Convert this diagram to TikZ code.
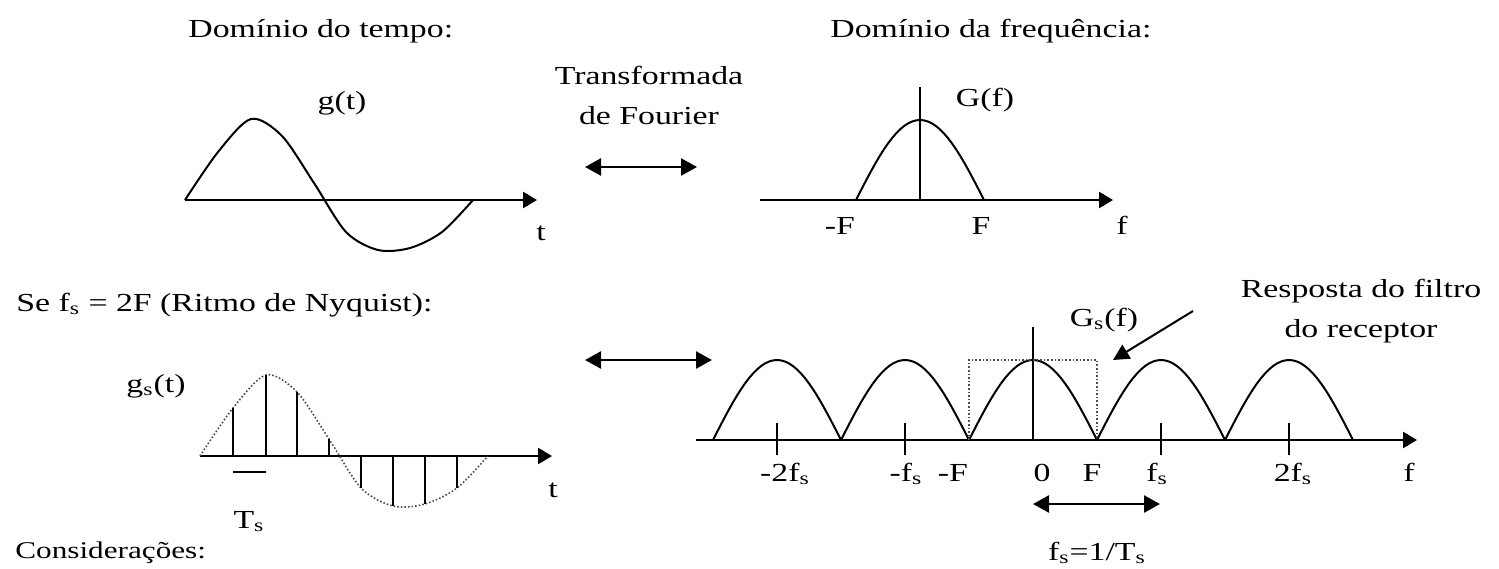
\documentclass[tikz,border=0pt]{standalone}
\usepackage{fontspec}
\setmainfont[FakeStretch=1.3]{Liberation Serif}
\usetikzlibrary{arrows.meta}

\begin{document}
\begin{tikzpicture}[x=0.5pt, y=-0.5pt,
  axis/.style={draw=black, line width=1.3pt, -{Triangle[length=7pt,width=8pt]}},
  curve/.style={draw=black, line width=1pt},
  guide/.style={draw=black!70, line width=0.8pt, densely dotted},
  tickmark/.style={draw=black, line width=1pt},
  twoway/.style={draw=black, line width=1.3pt, {Triangle[length=8pt,width=8.5pt]}-{Triangle[length=8pt,width=8.5pt]}},
  pointer/.style={draw=black, line width=1pt, -{Triangle[length=8pt,width=8pt]}},
  lbl/.style={font=\fontsize{13}{20}\selectfont, inner sep=0pt, anchor=base},
  small/.style={font=\fontsize{12}{14}\selectfont, inner sep=0pt, anchor=base west},
  wave/.pic={\draw plot[smooth] coordinates {(0,0) (33,-48) (66,-81) (97,-64) (129,-17) (161,32) (193,50) (225,48) (257,32) (288,0)};},
]
  \useasboundingbox (0,0) rectangle (1499,568);

  % titles
  \node[lbl, anchor=base west] (ttime) at (188,37) {Domínio do tempo:};
  \node[lbl, anchor=base west] (tfreq) at (830,37) {Domínio da frequência:};
  \node[lbl] (fourier) at (649,84) {Transformada};
  \node[lbl] (fourier2) at (649,124) {de Fourier};

  % g(t) and G(f)
  \draw[axis] (185,200) -- (537,200);
  \pic[curve] at (185,200) {wave};
  \node[lbl] (gt) at (342,109) {g(t)};
  \node[lbl] (t1) at (541,240) {t};

  \draw[axis] (760,200) -- (1113,200);
  \draw[curve] (920,87) -- (920,200);
  \draw[curve, shift={(856,200)}] plot[domain=0:128, samples=33] (\x,{-80*sin(\x/128*180)});
  \node[lbl] (Gf) at (985,106) {G(f)};
  \node[lbl] (mF1) at (840,234) {-F};
  \node[lbl] (F1) at (981,234) {F};
  \node[lbl] (f1) at (1122,234) {f};

  \coordinate (a1) at (585,167);
  \coordinate (b1) at (697,167);
  \draw[twoway] (a1) -- (b1);

  % sampled signal
  \node[lbl, anchor=base west] (nyq) at (16,311) {Se f\textsubscript{s} = 2F (Ritmo de Nyquist):};
  \node[lbl] (gst) at (156,392) {g\textsubscript{s}(t)};
  \draw[axis] (200,456) -- (552,456);
  \pic[guide] at (200,456) {wave};
  \foreach \sx/\sy in {33/-48, 66/-81, 97/-64, 129/-17, 161/32, 193/50, 225/48, 257/32}
    \draw[tickmark] ({200+\sx},456) -- ({200+\sx},{456+\sy});
  \coordinate (ts0) at (233,472);
  \coordinate (ts1) at (266,472);
  \draw[tickmark] (ts0) -- (ts1);
  \node[lbl] (Ts) at (249,528) {T\textsubscript{s}};
  \node[lbl] (t2) at (553,497) {t};
  \node[small] (consid) at (15,558) {Considerações:};

  \coordinate (a2) at (585,360);
  \coordinate (b2) at (712,360);
  \draw[twoway] (a2) -- (b2);

  % spectrum of the samples
  \draw[axis] (696,440) -- (1417,440);
  \draw[curve] (1033,327) -- (1033,440);
  \foreach \b in {713,841,969,1097,1225}
    \draw[curve, shift={(\b,440)}] plot[domain=0:128, samples=33] (\x,{-80*sin(\x/128*180)});
  \foreach \tx in {777,905,1161,1289}
    \draw[tickmark] (\tx,423) -- (\tx,455);
  \draw[guide] (969,440) -- (969,360) -- (1097,360) -- (1097,440);

  \node[lbl] (m2fs) at (785,481) {-2f\textsubscript{s}};
  \node[lbl] (mfs) at (906,481) {-f\textsubscript{s}};
  \node[lbl] (mF2) at (953,481) {-F};
  \node[lbl] (zero) at (1042,481) {0};
  \node[lbl] (F2) at (1092,481) {F};
  \node[lbl] (fs) at (1157,481) {f\textsubscript{s}};
  \node[lbl] (twofs) at (1293,481) {2f\textsubscript{s}};
  \node[lbl] (f2) at (1409,481) {f};

  \node[lbl] (Gsf) at (1104,326) {G\textsubscript{s}(f)};
  \node[lbl] (resp) at (1361,297) {Resposta do filtro};
  \node[lbl] (resp2) at (1361,337) {do receptor};
  \coordinate (p0) at (1193,311);
  \coordinate (p1) at (1113,360);
  \draw[pointer] (p0) -- (p1);

  \coordinate (a3) at (1033,504);
  \coordinate (b3) at (1160,504);
  \draw[twoway] (a3) -- (b3);
  \node[lbl] (period) at (1097,560) {f\textsubscript{s}=1/T\textsubscript{s}};
\end{tikzpicture}
\end{document}
